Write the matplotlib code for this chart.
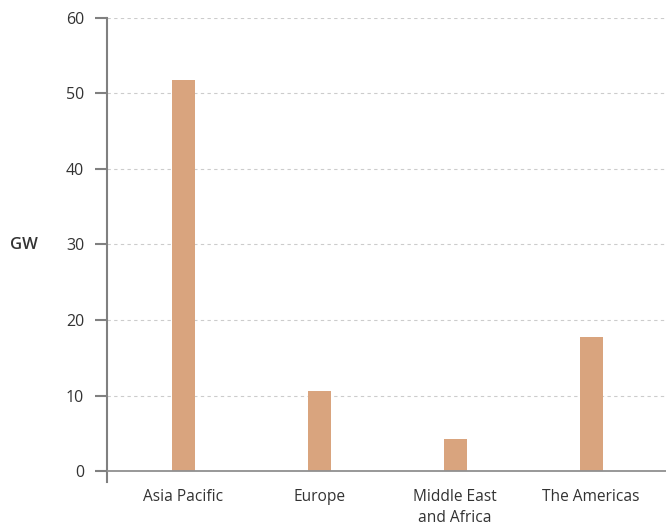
import matplotlib
matplotlib.use("Agg")
import matplotlib.pyplot as plt

categories = ["Asia Pacific", "Europe", "Middle East\nand Africa", "The Americas"]
values = [51.8, 10.6, 4.2, 17.7]
yticks = [0, 10, 20, 30, 40, 50, 60]
unit_label = "GW"

plt.rcParams['font.family'] = ['Open Sans', 'DejaVu Sans']

W, H = 666, 526
fig = plt.figure(figsize=(W/100, H/100), dpi=100)
ax = fig.add_axes([107/W, (H-482)/H, (W-107)/W, (482-18)/H])

x = range(len(categories))
ax.bar(x, values, width=0.167, color="#D9A47E", zorder=3)

ax.set_xlim(-0.56, 3.55)
ax.set_ylim(-60*11/453, 60)
ax.set_yticks(yticks)
ax.set_yticklabels([str(t) for t in yticks])
ax.set_xticks(list(x))
ax.set_xticklabels(categories, linespacing=1.4)

for s in ["top", "right", "bottom"]:
    ax.spines[s].set_visible(False)
ax.spines["left"].set_color("#808080")
ax.spines["left"].set_linewidth(1.5)

ax.tick_params(axis="y", length=8.5, width=1.5, color="#808080", pad=8, labelsize=11.5, labelcolor="#333333")
ax.tick_params(axis="x", length=0, pad=5, labelsize=11.2, labelcolor="#333333")

for t in yticks[1:]:
    ax.axhline(t, color="#cccccc", linestyle=(0, (3, 3)), linewidth=0.8, zorder=1)
ax.axhline(0, color="#909090", linewidth=1.3, zorder=4)

fig.text(24/W, 1-245/H, unit_label, ha="center", va="center", fontsize=12, fontweight="semibold", color="#333333")

fig.savefig("out.png", dpi=100)
